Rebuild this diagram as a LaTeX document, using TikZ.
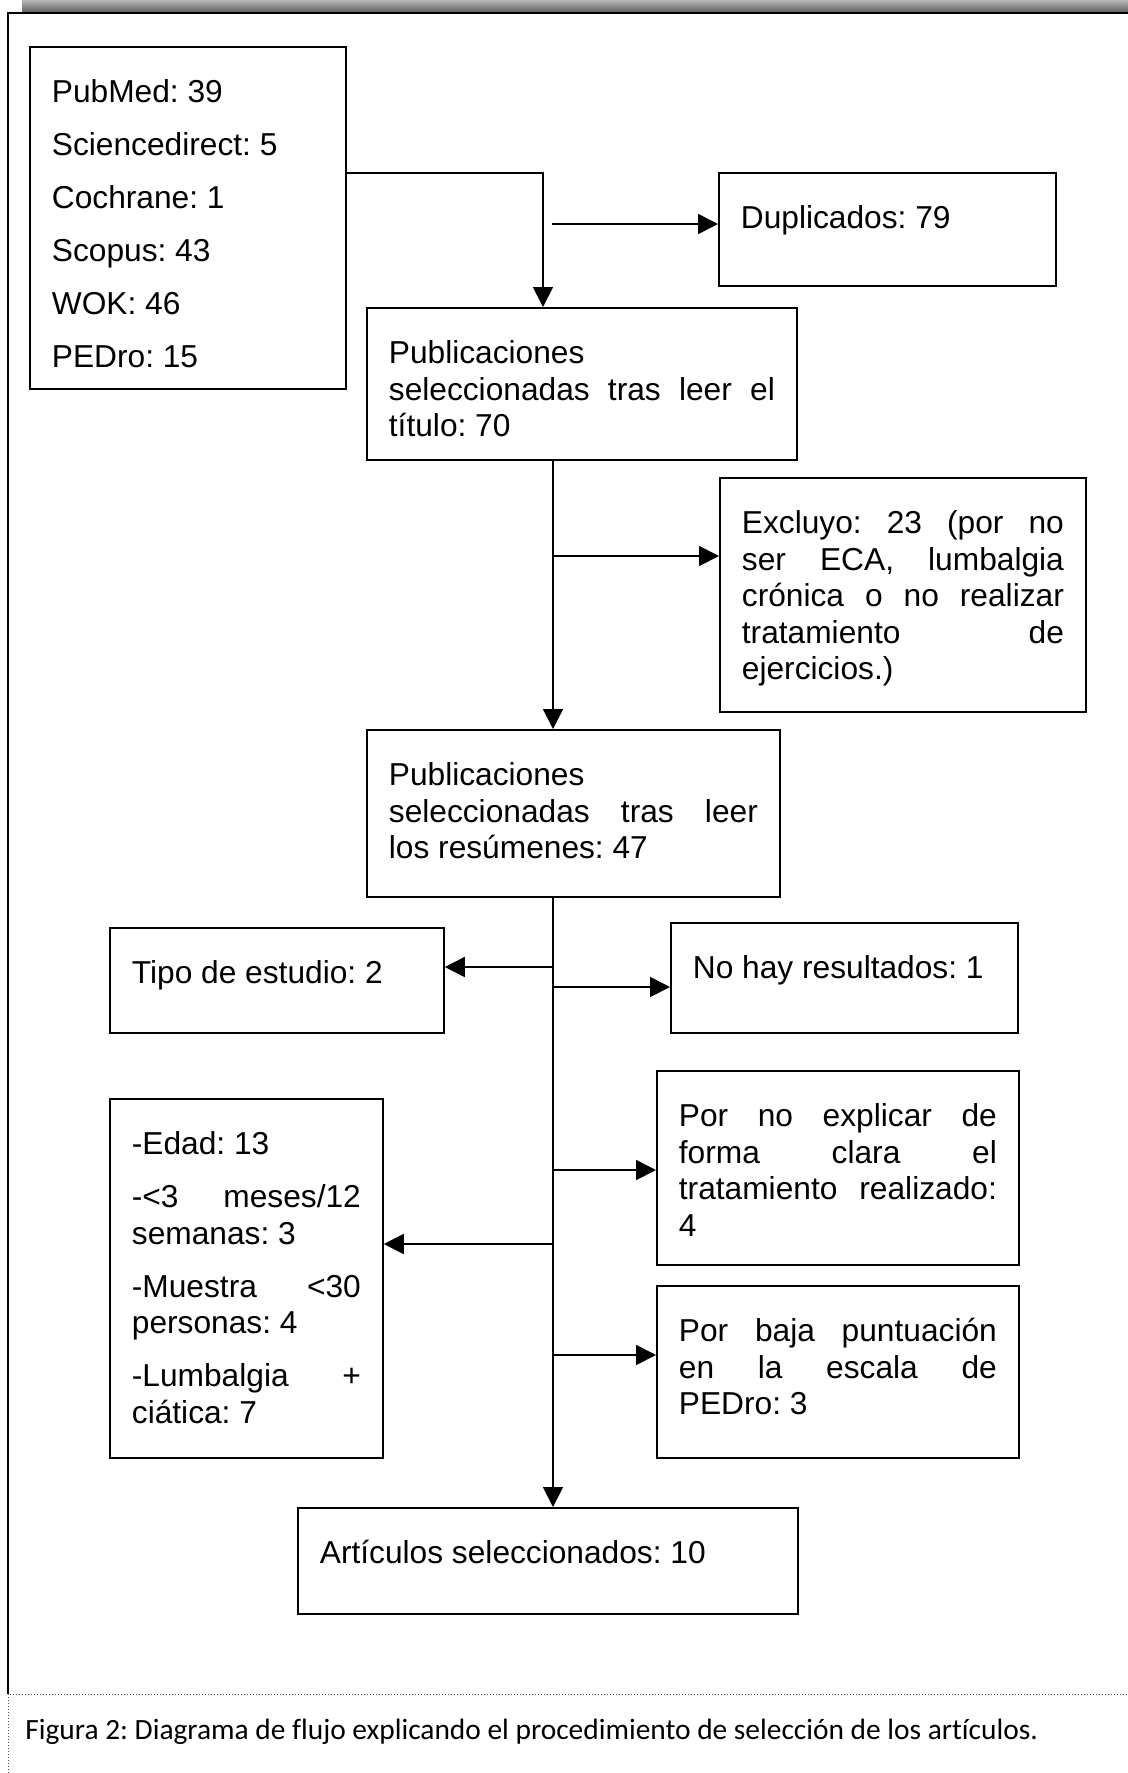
\documentclass[tikz,border=0pt]{standalone}
\usepackage{fontspec}
\setmainfont{Liberation Sans}
\newfontfamily\captionfont[Ligatures=NoCommon]{Carlito}
\usetikzlibrary{arrows.meta}
\tolerance=10000
\hyphenpenalty=10000
\frenchspacing

\begin{document}
\begin{tikzpicture}[
x=0.5pt, y=-0.5pt,
boxnode/.style={draw, line width=0.9pt, anchor=north west, align=justify, inner xsep=11pt, inner ysep=0pt, text height=28pt, font=\fontsize{15.85pt}{18.25pt}\selectfont, execute at begin node={\setlength{\parskip}{8.25pt}}},
arrowline/.style={line width=0.9pt, -{Triangle[length=10pt,width=10pt]}},
captionnode/.style={anchor=base west, inner sep=0pt, font=\captionfont\fontsize{14.7pt}{17pt}\selectfont},
]
\useasboundingbox (0,0) rectangle (1128,1773);
\shade[top color=black!28, bottom color=black!62] (22,0) rectangle (1128,12);
\draw[line width=1.2pt] (8,1694) -- (8,13) -- (1128,13);
\draw[black!70, line width=0.5pt, dash pattern=on 0.5pt off 1pt] (8,1773) -- (8,1694) -- (1128,1694);

\node[boxnode, text width=136pt, text depth=143pt]   (src)   at (29,46)    {PubMed: 39\par Sciencedirect: 5\par Cochrane: 1\par Scopus: 43\par WOK: 46\par PEDro: 15};
\node[boxnode, text width=146.5pt, text depth=28.5pt] (dup)   at (718,172)  {Duplicados: 79};
\node[boxnode, text width=193pt, text depth=48pt]    (tit)   at (366,307)  {Publicaciones\linebreak seleccionadas tras leer el\linebreak título: 70};
\node[boxnode, text width=161pt, text depth=89pt]    (exc)   at (719,477)  {Excluyo: 23 (por no\linebreak ser ECA, lumbalgia\linebreak crónica o no realizar\linebreak tratamiento de\linebreak ejercicios.)};
\node[boxnode, text width=184.5pt, text depth=55.5pt] (res)   at (366,729)  {Publicaciones\linebreak seleccionadas tras leer\linebreak los resúmenes: 47};
\node[boxnode, text width=145pt, text depth=24.5pt]  (tipo)  at (109,927)  {Tipo de estudio: 2};
\node[boxnode, text width=151.5pt, text depth=27pt]  (nohay) at (670,922)  {No hay resultados: 1};
\node[boxnode, text width=114.5pt, text depth=151.5pt] (edad) at (109,1098) {-Edad: 13\par -<3 meses/12\linebreak semanas: 3\par -Muestra <30\linebreak personas: 4\par -Lumbalgia +\linebreak ciática: 7};
\node[boxnode, text width=159pt, text depth=69pt]    (expl)  at (656,1070) {Por no explicar de\linebreak forma clara el\linebreak tratamiento realizado:\linebreak 4};
\node[boxnode, text width=159pt, text depth=58pt]    (baja)  at (656,1285) {Por baja puntuación\linebreak en la escala de\linebreak PEDro: 3};
\node[boxnode, text width=228pt, text depth=25pt]    (art)   at (297,1507) {Artículos seleccionados: 10};

\node[captionnode] (cap) at (25,1739) {Figura 2: Diagrama de flujo explicando el procedimiento de selección de los artículos.};

\coordinate (j0) at (543,173);
\coordinate (d0) at (552,224);
\coordinate (b1) at (553,556);
\coordinate (bt) at (553,967);
\coordinate (bn) at (553,987);
\coordinate (bx) at (553,1170);
\coordinate (be) at (553,1244);
\coordinate (bb) at (553,1355);

\draw[arrowline] (src.east |- j0) -- (j0) -- (j0 |- tit.north);
\draw[arrowline] (d0) -- (d0 -| dup.west);
\draw[arrowline] (b1 |- tit.south) -- (b1 |- res.north);
\draw[arrowline] (b1) -- (b1 -| exc.west);
\draw[arrowline] (b1 |- res.south) -- (b1 |- art.north);
\draw[arrowline] (bt) -- (bt -| tipo.east);
\draw[arrowline] (bn) -- (bn -| nohay.west);
\draw[arrowline] (bx) -- (bx -| expl.west);
\draw[arrowline] (be) -- (be -| edad.east);
\draw[arrowline] (bb) -- (bb -| baja.west);

\end{tikzpicture}
\end{document}
